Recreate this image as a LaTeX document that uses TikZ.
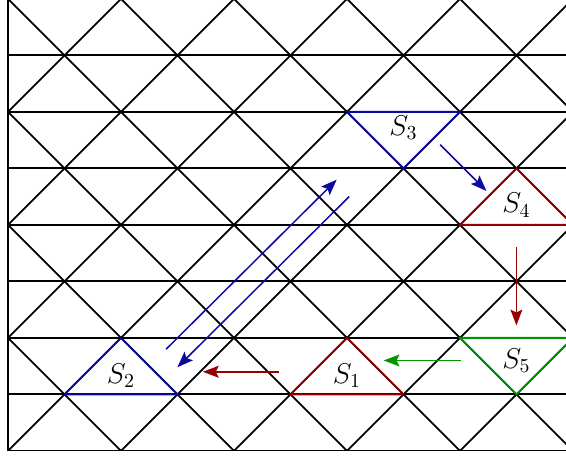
\documentclass[tikz,border=0pt]{standalone}
\usetikzlibrary{arrows.meta}
\definecolor{smodra}{RGB}{10,10,160}
\definecolor{scervena}{RGB}{150,0,0}
\definecolor{szelena}{RGB}{0,150,0}

\begin{document}
\begin{tikzpicture}[scale=1]
    \tikzset{mriz/.style={line width=0.9pt},
        sipka/.style={line width=0.75pt,-{Stealth[length=8pt,width=6pt,inset=1.5pt]}}}
    \useasboundingbox (-0.14,-0.09) rectangle (9.878,7.98);
    \clip (-0.14,-0.09) rectangle (9.878,7.98);
    \begin{scope}
    \clip (0,0) rectangle (11,9);
    \foreach \y in {0,...,8}
        \draw[mriz] (0,\y) -- (11,\y);
    \foreach \c in {0,2,...,20}
        \draw[mriz] (0,\c) -- (\c,0);
    \foreach \c in {-10,-8,...,10}
        \draw[mriz] (\c,0) -- ({\c+11},11);
    \end{scope}
    \draw[mriz] (0,0) -- (0,9);
    % trojuhelniky
    \draw[mriz,smodra] (6,6) -- (8,6) -- (7,5) -- cycle;
    \draw[mriz,scervena] (8,4) -- (10,4) -- (9,5) -- cycle;
    \draw[mriz,szelena] (8,2) -- (10,2) -- (9,1) -- cycle;
    \draw[mriz,scervena] (5,1) -- (7,1) -- (6,2) -- cycle;
    \draw[mriz,smodra] (1,1) -- (3,1) -- (2,2) -- cycle;
    \node (s3) at (7,5.72) {\Large $S_3$};
    \node (s4) at (9,4.35) {\Large $S_4$};
    \node (s5) at (9,1.6) {\Large $S_5$};
    \node (s1) at (6,1.33) {\Large $S_1$};
    \node (s2) at (2,1.33) {\Large $S_2$};
    % sipky
    \coordinate (a34) at (7.65,5.42);
    \coordinate (b34) at (8.47,4.6);
    \coordinate (a45) at (9,3.6);
    \coordinate (b45) at (9,2.22);
    \coordinate (a51) at (8.02,1.6);
    \coordinate (b51) at (6.65,1.6);
    \coordinate (a12) at (4.8,1.4);
    \coordinate (b12) at (3.45,1.4);
    \coordinate (adol) at (6.04,4.5);
    \coordinate (bdol) at (3.0,1.48);
    \coordinate (anah) at (2.8,1.8);
    \coordinate (bnah) at (5.82,4.8);
    \draw[sipka,smodra] (a34) -- (b34);
    \draw[sipka,scervena] (a45) -- (b45);
    \draw[sipka,szelena] (a51) -- (b51);
    \draw[sipka,scervena] (a12) -- (b12);
    \draw[sipka,smodra] (adol) -- (bdol);
    \draw[sipka,smodra] (anah) -- (bnah);
\end{tikzpicture}
\end{document}
